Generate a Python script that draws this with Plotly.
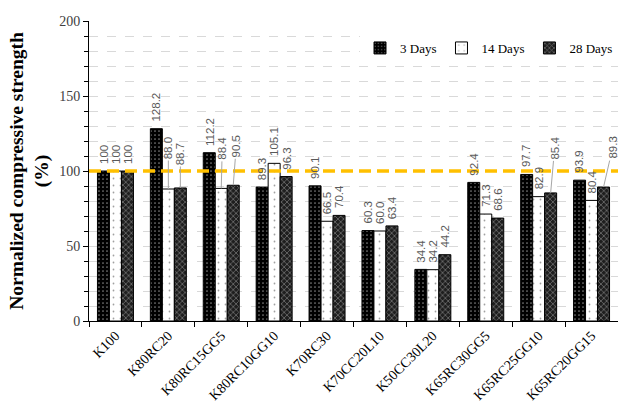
import plotly.graph_objects as go

# Mix designs and normalized compressive strength (% of K100)
categories = ["K100", "K80RC20", "K80RC15GG5", "K80RC10GG10", "K70RC30",
              "K70CC20L10", "K50CC30L20", "K65RC30GG5", "K65RC25GG10", "K65RC20GG15"]
days_3 = [100, 128.2, 112.2, 89.3, 90.1, 60.3, 34.4, 92.4, 97.7, 93.9]
days_14 = [100, 88.0, 88.4, 105.1, 66.5, 60.0, 34.2, 71.3, 82.9, 80.4]
days_28 = [100, 88.7, 90.5, 96.3, 70.4, 63.4, 44.2, 68.6, 85.4, 89.3]
series_names = ["3 Days", "14 Days", "28 Days"]
reference_level = 100
y_ticks = [0, 50, 100, 150, 200]

# fill patterns per age
patterns = [
    dict(shape=".", bgcolor="#000000", fgcolor="#ffffff", size=4, solidity=0.15),
    dict(shape=".", bgcolor="#ffffff", fgcolor="#444444", size=7, solidity=0.05),
    dict(shape="x", bgcolor="#1e1e1e", fgcolor="#c8c8c8", size=4, solidity=0.35),
]
bar_px_offsets = [-12, 0, 12]
# labels lifted off their bars with a leader line: (series, category) -> (dx, dy) px
leader_offsets = {(1, 1): (0, -41), (2, 1): (0, -34), (1, 2): (1, -40),
                  (2, 2): (3, -39), (2, 8): (4, -45), (2, 9): (9, -39)}

series = [days_3, days_14, days_28]

fig = go.Figure()
for name, vals, pat in zip(series_names, series, patterns):
    fig.add_trace(go.Bar(
        x=categories, y=vals, name=name,
        marker=dict(color=pat["bgcolor"], pattern=pat,
                    line=dict(color="#000000", width=1)),
    ))

label_font = dict(family="Liberation Sans", size=11.5, color="#595959")
annotations = []
for si, vals in enumerate(series):
    for ci, v in enumerate(vals):
        txt = "100" if v == 100 else f"{v:.1f}"
        if (si, ci) in leader_offsets:
            dx, dy = leader_offsets[(si, ci)]
            annotations.append(dict(
                x=categories[ci], y=v, xshift=bar_px_offsets[si], text=txt,
                textangle=-90, font=label_font, showarrow=True, arrowhead=0,
                arrowwidth=1, arrowcolor="#a6a6a6", ax=dx, ay=dy, standoff=0))
        else:
            annotations.append(dict(
                x=categories[ci], y=v, xshift=bar_px_offsets[si], yshift=5,
                text=txt, textangle=-90, font=label_font, showarrow=False,
                xanchor="center", yanchor="bottom"))

fig.update_layout(
    width=618, height=410,
    margin=dict(l=89, r=0, t=21, b=89),
    paper_bgcolor="white", plot_bgcolor="white",
    barmode="group", bargap=0.32, bargroupgap=0,
    font=dict(family="Liberation Serif", color="#000000"),
    showlegend=True,
    legend=dict(orientation="h", x=1.0, xanchor="right", y=0.91, yanchor="middle",
                bgcolor="white", font=dict(family="Liberation Serif", size=13),
                itemwidth=30, traceorder="normal"),
    annotations=annotations,
    xaxis=dict(
        range=[-0.5, 9.5], showline=True, linecolor="#000000", linewidth=1,
        ticks="outside", tickson="boundaries", ticklen=5, tickcolor="#000000",
        tickangle=-45, tickfont=dict(family="Liberation Serif", size=14, color="#000000"),
        showgrid=False, zeroline=False,
    ),
    yaxis=dict(
        range=[0, 200], tickvals=y_ticks, showline=True, linecolor="#000000",
        linewidth=1, ticks="outside", ticklen=5, tickcolor="#000000",
        tickfont=dict(family="Liberation Serif", size=14, color="#404040"),
        showgrid=True, gridcolor="#d9d9d9", griddash="dash", gridwidth=1,
        zeroline=False,
        minor=dict(dtick=10, ticks="outside", ticklen=4, tickcolor="#000000",
                   showgrid=True, gridcolor="#d9d9d9", griddash="dash", gridwidth=1),
        title=dict(text="<b>Normalized compressive strength<br>(%)</b>",
                   font=dict(family="Liberation Serif", size=19.5, color="#000000"),
                   standoff=5),
    ),
    shapes=[
        # white panel behind the legend
        dict(type="rect", xref="x domain", yref="y", x0=0.64, x1=1.0, y0=166, y1=204,
             fillcolor="white", line=dict(width=0), layer="below"),
        # 100 % reference line
        dict(type="line", xref="x domain", yref="y", x0=0, x1=1,
             y0=reference_level, y1=reference_level,
             line=dict(color="#ffc000", width=3.5, dash="12px,6px"), layer="above"),
    ],
)

fig.write_html("out.html")
